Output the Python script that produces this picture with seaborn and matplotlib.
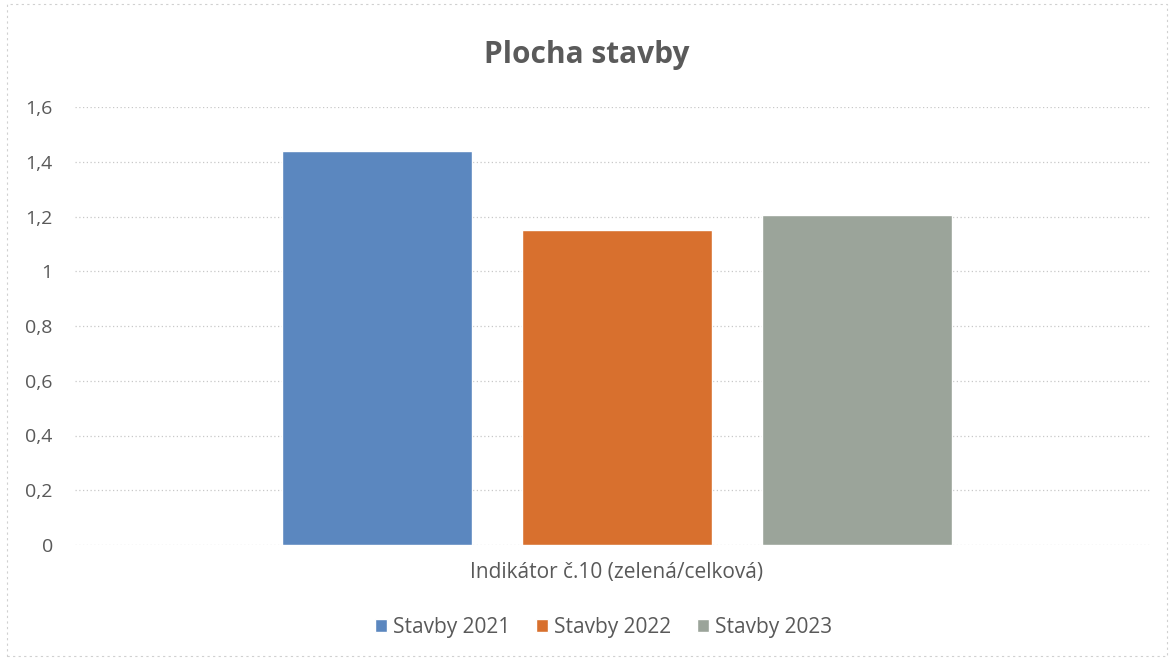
import matplotlib
matplotlib.use("Agg")
import matplotlib.pyplot as plt
import seaborn as sns
import pandas as pd
from matplotlib.ticker import FuncFormatter

# --- Daten ---
kategorie = ["Indikátor č.10 (zelená/celková)"]
serien = ["Stavby 2021", "Stavby 2022", "Stavby 2023"]
werte = [1.44, 1.15, 1.205]
farben = ["#5b87bf", "#d8702e", "#9ba49a"]

df = pd.DataFrame({
    "kategorie": kategorie * len(serien),
    "serie": serien,
    "wert": werte,
})

sns.set_theme(style="white")
plt.rcParams['font.family'] = ['Open Sans', 'DejaVu Sans']

fig = plt.figure(figsize=(11.74, 6.6), dpi=100)
ax = fig.add_axes([75 / 1174, 1 - 545 / 660, 1075 / 1174, 438 / 660])

sns.barplot(data=df, x="kategorie", y="wert", hue="serie",
            palette=farben, width=0.67, gap=0.21, ax=ax,
            saturation=1, legend=True)

ax.set_ylim(0, 1.6)
ax.set_xlim(-0.504, 0.496)
ax.set_yticks([0, 0.2, 0.4, 0.6, 0.8, 1.0, 1.2, 1.4, 1.6])
ax.yaxis.set_major_formatter(FuncFormatter(
    lambda v, p: f"{v:g}".replace(".", ",")))
ax.yaxis.grid(True, color="#c8c8c8", linestyle=(0, (1, 2)), linewidth=0.9)
ax.set_axisbelow(True)
for s in ax.spines.values():
    s.set_visible(False)
ax.tick_params(axis="y", labelsize=14, colors="#595959", pad=16, length=0)
ax.tick_params(axis="x", labelsize=15, colors="#595959", pad=12, length=0)
ax.set_xlabel("")
ax.set_ylabel("")

fig.text(0.5, 1 - 55 / 660, "Plocha stavby", ha="center", va="center",
         fontsize=21.5, fontweight="bold", color="#5a5a5a")

ax.legend(loc="center", bbox_to_anchor=(0.5 - 9 / 1075, (545 - 627) / 438),
          ncol=3, frameon=False, fontsize=15, handlelength=0.6,
          handleheight=0.6, handletextpad=0.3, columnspacing=1.2,
          labelcolor="#595959")

# Rahmen um das Diagramm
rahmen = plt.Rectangle((0.006, 0.006), 0.988, 0.988, transform=fig.transFigure,
                       fill=False, edgecolor="#d0d0d0", linewidth=0.8,
                       linestyle=(0, (2, 3)))
fig.add_artist(rahmen)

fig.savefig("out.png", dpi=100)
